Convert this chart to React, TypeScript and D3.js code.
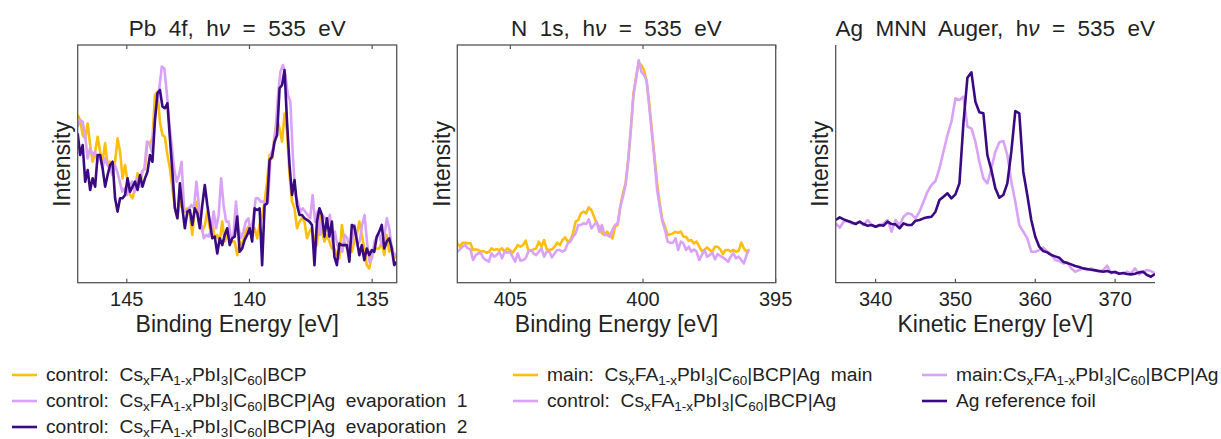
import React from "react";
import * as d3 from "d3";

// ---------- DATA ----------
// Panel 1: Pb 4f (binding energy from 147 eV down to 134 eV, evenly spaced)
const pbEnergyStart = 147;
const pbEnergyEnd = 134;
const pbControlBCP = [
  70.5, 68.4, 62.1, 60.7, 67.0, 57.9, 50.9, 55.1, 61.4, 55.1,
  50.9, 58.6, 49.5, 50.9, 48.1, 50.9, 60.7, 55.1, 43.9, 49.5,
  42.5, 36.9, 35.5, 39.7, 46.0, 41.1, 46.7, 48.1, 59.3, 58.6,
  60.7, 79.0, 80.4, 67.7, 62.1, 61.4, 53.7, 48.1, 39.7, 31.3,
  27.1, 34.1, 31.3, 29.9, 31.3, 28.5, 20.1, 31.3, 34.1, 25.7,
  21.5, 24.1, 29.9, 22.9, 25.7, 18.7, 20.1, 17.3, 25.7, 17.3,
  20.1, 20.1, 17.3, 17.3, 11.6, 17.3, 15.8, 20.1, 22.9, 24.3,
  20.1, 22.9, 18.7, 24.3, 28.5, 34.1, 42.5, 53.7, 52.3, 62.1,
  69.1, 64.9, 59.3, 71.2, 63.5, 45.3, 34.1, 31.3, 22.9, 25.7,
  27.1, 25.7, 18.7, 21.5, 22.9, 17.3, 15.8, 29.9, 21.5, 17.3,
  20.1, 17.3, 14.4, 14.4, 11.6, 10.2, 24.3, 17.3, 14.4, 14.4,
  13.0, 17.3, 20.1, 25.7, 20.1, 14.4, 7.4, 6.0, 11.6, 13.7,
  14.4, 14.4, 17.3, 11.6, 20.1, 13.0, 15.8, 10.2, 11.6,
];
const pbEvap1 = [
  65.6, 68.4, 67.7, 62.1, 52.3, 56.5, 53.7, 55.1, 50.9, 53.7,
  48.1, 52.3, 49.5, 48.1, 45.3, 49.5, 46.7, 42.5, 38.3, 39.7,
  36.9, 41.1, 42.5, 38.3, 43.9, 40.4, 46.7, 48.1, 59.3, 58.6,
  55.1, 67.7, 74.8, 81.8, 90.9, 90.2, 80.4, 67.7, 57.9, 48.1,
  42.5, 45.3, 50.9, 31.3, 29.9, 31.3, 32.7, 31.3, 42.5, 32.7,
  24.3, 18.7, 20.1, 19.4, 22.9, 29.9, 22.9, 28.5, 43.9, 32.7,
  25.7, 25.7, 18.7, 20.1, 34.1, 22.9, 18.7, 21.5, 25.7, 27.1,
  21.5, 27.1, 35.5, 35.5, 34.1, 34.1, 32.7, 34.1, 53.7, 56.5,
  63.5, 79.0, 88.8, 91.6, 87.4, 79.0, 76.2, 53.7, 36.9, 34.1,
  29.9, 31.3, 29.9, 28.5, 27.1, 36.9, 25.7, 29.9, 20.1, 28.5,
  27.1, 25.7, 28.5, 17.3, 21.5, 15.8, 14.4, 13.0, 20.1, 18.7,
  14.4, 17.3, 24.3, 15.8, 17.3, 24.3, 28.5, 17.3, 8.8, 10.2,
  17.3, 19.4, 20.1, 15.8, 19.4, 27.1, 22.9, 14.4, 11.6, 12.3,
];
const pbEvap2 = [
  62.8, 53.7, 57.9, 42.5, 47.4, 39.0, 43.9, 40.4, 53.7, 53.7,
  48.1, 40.4, 45.3, 49.5, 50.9, 35.5, 29.9, 35.5, 35.5, 36.9,
  43.9, 38.3, 40.4, 42.5, 39.0, 45.3, 40.4, 43.9, 46.7, 53.7,
  50.9, 68.4, 79.7, 81.1, 74.1, 73.4, 75.5, 60.7, 46.7, 31.3,
  27.1, 41.8, 31.3, 22.9, 29.9, 30.6, 24.3, 31.3, 29.2, 22.9,
  32.7, 41.1, 32.7, 25.7, 18.7, 19.4, 12.3, 18.7, 15.8, 20.1,
  22.9, 15.8, 18.7, 19.4, 27.8, 13.0, 14.4, 18.0, 20.1, 22.9,
  17.3, 31.3, 30.6, 31.3, 7.4, 32.7, 33.4, 51.6, 53.0, 59.3,
  62.1, 81.8, 83.2, 89.5, 67.7, 49.5, 36.9, 43.2, 32.7, 28.5,
  28.5, 27.1, 26.4, 25.7, 24.3, 7.4, 25.7, 31.3, 28.5, 19.4,
  27.1, 19.4, 25.7, 10.9, 7.4, 16.5, 15.8, 15.8, 15.8, 8.8,
  24.3, 23.6, 18.0, 11.6, 15.8, 9.5, 14.4, 11.6, 13.7, 13.0,
  19.4, 21.5, 24.3, 14.4, 17.3, 18.7, 14.4, 7.4, 8.8,
];

// Panel 2: N 1s (binding energy 407 eV down to 396 eV)
const nEnergyStart = 407;
const nEnergyEnd = 396;
const nMain = [
  118, 108, 120, 120, 118, 118, 98, 100, 98, 93,
  95, 90, 92, 103, 98, 100, 98, 103, 93, 103,
  98, 90, 100, 113, 108, 113, 126, 98, 96, 100,
  103, 123, 108, 128, 100, 98, 100, 108, 120, 113,
  128, 136, 123, 128, 148, 183, 188, 208, 213, 208,
  226, 218, 198, 178, 168, 148, 143, 153, 143, 133,
  168, 173, 228, 268, 298, 368, 458, 568, 618, 658,
  653, 638, 603, 538, 458, 378, 298, 238, 188, 168,
  143, 145, 148, 153, 150, 153, 138, 138, 126, 128,
  118, 123, 108, 95, 98, 106, 98, 93, 108, 108,
  100, 86, 98, 98, 94, 98, 93, 96, 120, 103,
  93, 100,
];
const nControl = [
  93, 100, 108, 113, 103, 100, 68, 83, 88, 88,
  73, 68, 63, 88, 78, 83, 93, 73, 93, 90,
  93, 78, 63, 88, 66, 68, 73, 93, 98, 88,
  83, 93, 103, 78, 93, 93, 76, 88, 98, 98,
  93, 98, 118, 123, 138, 148, 173, 173, 178, 176,
  190, 163, 173, 183, 153, 173, 143, 143, 138, 158,
  173, 178, 228, 258, 293, 368, 463, 563, 613, 668,
  633, 623, 608, 528, 448, 368, 278, 228, 183, 158,
  123, 120, 120, 133, 98, 123, 118, 98, 108, 93,
  100, 93, 68, 83, 98, 78, 83, 90, 70, 86,
  80, 76, 70, 63, 78, 88, 73, 78, 68, 58,
  83, 100,
];

// Panel 3: Ag MNN Auger (kinetic energy 335 eV to 375 eV)
const agEnergyStart = 335;
const agEnergyEnd = 375;
const agMain = [
  178, 165, 183, 186, 178, 178, 183, 173, 188, 173,
  168, 171, 178, 188, 153, 188, 173, 198, 208, 205,
  193, 213, 243, 273, 293, 305, 343, 393, 443, 483,
  553, 548, 558, 468, 463, 423, 363, 313, 298, 343,
  393, 421, 425, 383, 303, 243, 173, 153, 133, 93,
  93, 98, 105, 93, 85, 68, 65, 58, 61, 43,
  33, 38, 43, 38, 43, 38, 33, 38, 51, 28,
  33, 28, 28, 33, 28, 43, 25, 33, 38, 35,
  28,
];
const agFoil = [
  188, 196, 190, 185, 181, 176, 183, 176, 171, 173,
  168, 173, 171, 183, 176, 175, 163, 178, 173, 173,
  186, 188, 193, 196, 198, 213, 248, 258, 268, 253,
  265, 298, 478, 615, 631, 543, 511, 508, 383, 338,
  283, 255, 263, 298, 393, 515, 508, 333, 263, 188,
  138, 108, 95, 91, 83, 79, 75, 63, 59, 55,
  50, 47, 43, 41, 39, 37, 35, 33, 35, 31,
  32, 27, 29, 26, 25, 27, 31, 33, 23, 18,
  26,
];

const pbTicks = [145, 140, 135];
const nTicks = [405, 400, 395];
const agTicks = [340, 350, 360, 370];

// ---------- STYLE ----------
const YELLOW = "#FFBE0B";
const LIGHT = "#D9A2F6";
const DARK = "#3A0A82";
const FRAME = "#555555";
const FONT = "'Liberation Sans', Arial, Helvetica, sans-serif";

type Series = { values: number[]; start: number; end: number; color: string };

function toPoints(values: number[], start: number, end: number): [number, number][] {
  const n = values.length;
  return values.map((v, i) => [start + (i * (end - start)) / (n - 1), v]);
}

type PanelProps = {
  id: string;
  left: number;
  right: number;
  top: number;
  bottom: number;
  xDomain: [number, number];
  yDomain: [number, number];
  ticks: number[];
  series: Series[];
  title: [string, string];
  xLabel: string;
  box: boolean;
};

function Panel(p: PanelProps) {
  const x = d3.scaleLinear().domain(p.xDomain).range([p.left, p.right]);
  const y = d3.scaleLinear().domain(p.yDomain).range([p.bottom, p.top]);
  const line = d3
    .line<[number, number]>()
    .x((d) => x(d[0]))
    .y((d) => y(d[1]));
  const cx = (p.left + p.right) / 2;
  const cy = (p.top + p.bottom) / 2;
  return (
    <g>
      <defs>
        <clipPath id={`clip-${p.id}`}>
          <rect x={p.left} y={p.top} width={p.right - p.left} height={p.bottom - p.top} />
        </clipPath>
      </defs>
      <g clipPath={`url(#clip-${p.id})`}>
        {p.series.map((s, i) => (
          <path
            key={i}
            d={line(toPoints(s.values, s.start, s.end)) || ""}
            fill="none"
            stroke={s.color}
            strokeWidth={2.6}
            strokeLinejoin="round"
          />
        ))}
      </g>
      {p.box ? (
        <rect
          x={p.left}
          y={p.top}
          width={p.right - p.left}
          height={p.bottom - p.top}
          fill="none"
          stroke={FRAME}
          strokeWidth={1.3}
        />
      ) : (
        <path
          d={`M${p.left},${p.top}V${p.bottom}H${p.right}`}
          fill="none"
          stroke={FRAME}
          strokeWidth={1.3}
        />
      )}
      {p.ticks.map((t) => (
        <g key={t}>
          <line x1={x(t)} x2={x(t)} y1={p.bottom} y2={p.bottom - 4} stroke={FRAME} strokeWidth={1.2} />
          {p.box && (
            <line x1={x(t)} x2={x(t)} y1={p.top} y2={p.top + 4} stroke={FRAME} strokeWidth={1.2} />
          )}
          <text x={x(t)} y={p.bottom + 23.5} textAnchor="middle" fontSize={20} fill="#222">
            {t}
          </text>
        </g>
      ))}
      <text x={cx} y={p.bottom + 49} textAnchor="middle" fontSize={23} fill="#222">
        {p.xLabel}
      </text>
      <text
        transform={`translate(${p.left - 7.7},${cy}) rotate(-90)`}
        textAnchor="middle"
        fontSize={23}
        fill="#222"
      >
        Intensity
      </text>
      <text x={cx} y={36} textAnchor="middle" fontSize={22.5} fill="#222" style={{ whiteSpace: "pre" }}>
        {p.title[0]}
        <tspan fontStyle="italic">ν</tspan>
        {p.title[1]}
      </text>
    </g>
  );
}

function Formula({ prefix, suffix }: { prefix: string; suffix: string }) {
  const sub = 13.5;
  const d = 4;
  return (
    <>
      {prefix}
      {"Cs"}
      <tspan fontSize={sub} dy={d}>x</tspan>
      <tspan dy={-d}>FA</tspan>
      <tspan fontSize={sub} dy={d}>1-x</tspan>
      <tspan dy={-d}>PbI</tspan>
      <tspan fontSize={sub} dy={d}>3</tspan>
      <tspan dy={-d}>|C</tspan>
      <tspan fontSize={sub} dy={d}>60</tspan>
      <tspan dy={-d}>{"|BCP" + suffix}</tspan>
    </>
  );
}

type LegendItem = { color: string; x: number; row: number; prefix?: string; suffix?: string; plain?: string };

const legendItems: LegendItem[] = [
  { color: YELLOW, x: 12, row: 0, prefix: "control:  ", suffix: "" },
  { color: LIGHT, x: 12, row: 1, prefix: "control:  ", suffix: "|Ag  evaporation  1" },
  { color: DARK, x: 12, row: 2, prefix: "control:  ", suffix: "|Ag  evaporation  2" },
  { color: YELLOW, x: 513, row: 0, prefix: "main:  ", suffix: "|Ag  main" },
  { color: LIGHT, x: 513, row: 1, prefix: "control:  ", suffix: "|Ag" },
  { color: LIGHT, x: 922, row: 0, prefix: "main:", suffix: "|Ag" },
  { color: DARK, x: 922, row: 1, plain: "Ag reference foil" },
];

export default function App() {
  const top = 45;
  const bottom = 282.7;
  return (
    <svg
      width={1221}
      height={439}
      style={{ position: "absolute", left: 0, top: 0, background: "#fff" }}
      fontFamily={FONT}
    >
      <rect width={1221} height={439} fill="#fff" />
      <Panel
        id="pb"
        left={77.7}
        right={396.7}
        top={top}
        bottom={bottom}
        xDomain={[147, 134]}
        yDomain={[0, 100]}
        ticks={pbTicks}
        box={true}
        title={["Pb  4f,  h", "  =  535  eV"]}
        xLabel="Binding Energy [eV]"
        series={[
          { values: pbControlBCP, start: pbEnergyStart, end: pbEnergyEnd, color: YELLOW },
          { values: pbEvap1, start: pbEnergyStart, end: pbEnergyEnd, color: LIGHT },
          { values: pbEvap2, start: pbEnergyStart, end: pbEnergyEnd, color: DARK },
        ]}
      />
      <Panel
        id="n"
        left={457.3}
        right={775.7}
        top={top}
        bottom={bottom}
        xDomain={[407, 395]}
        yDomain={[0, 713]}
        ticks={nTicks}
        box={true}
        title={["N  1s,  h", "  =  535  eV"]}
        xLabel="Binding Energy [eV]"
        series={[
          { values: nMain, start: nEnergyStart, end: nEnergyEnd, color: YELLOW },
          { values: nControl, start: nEnergyStart, end: nEnergyEnd, color: LIGHT },
        ]}
      />
      <Panel
        id="ag"
        left={835.7}
        right={1155}
        top={top}
        bottom={bottom}
        xDomain={[335, 375]}
        yDomain={[0, 713]}
        ticks={agTicks}
        box={false}
        title={["Ag  MNN  Auger,  h", "  =  535  eV"]}
        xLabel="Kinetic Energy [eV]"
        series={[
          { values: agMain, start: agEnergyStart, end: agEnergyEnd, color: LIGHT },
          { values: agFoil, start: agEnergyStart, end: agEnergyEnd, color: DARK },
        ]}
      />
      <g fontSize={19.2} fill="#222">
        {legendItems.map((it, i) => {
          const yb = 381 + it.row * 26;
          return (
            <g key={i}>
              <line x1={it.x} x2={it.x + 25} y1={yb - 6} y2={yb - 6} stroke={it.color} strokeWidth={2.6} />
              <text x={it.x + 34} y={yb} style={{ whiteSpace: "pre" }}>
                {it.plain ? it.plain : <Formula prefix={it.prefix || ""} suffix={it.suffix || ""} />}
              </text>
            </g>
          );
        })}
      </g>
    </svg>
  );
}
